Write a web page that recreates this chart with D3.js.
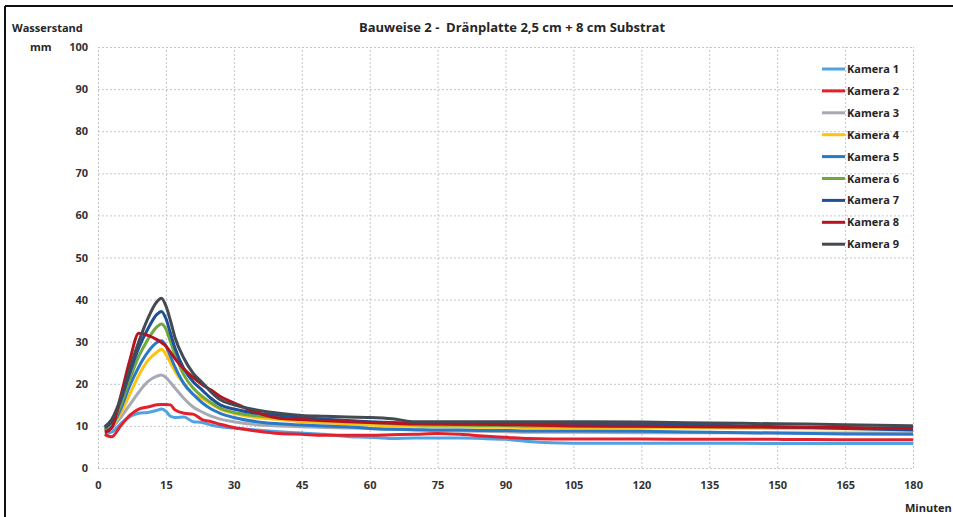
<!DOCTYPE html>
<html>
<head>
<meta charset="utf-8">
<script src="https://cdn.jsdelivr.net/npm/d3@7"></script>
<style>
  body { margin: 0; background: #fff; }
  text { font-family: "Liberation Sans Narrow", "Open Sans", sans-serif; font-weight: bold; fill: #262626; }
  .grid line { stroke: #c4c6cf; stroke-dasharray: 2,2; }
  .grid path { display: none; }
  .axis path, .axis line { display: none; }
  .line { fill: none; stroke-width: 3; stroke-linejoin: round; }
</style>
</head>
<body>
<script>
var minutes = [1.5, 3, 5, 7, 9, 11, 13, 14, 15, 16, 17, 19, 21, 23, 25, 27, 30, 35, 40, 45, 50, 55, 60, 65, 70, 75, 80, 85, 90, 95, 100, 105, 120, 135, 150, 165, 180];

var kamera1 = [8.2, 8.5, 10.5, 12.2, 13.0, 13.2, 13.7, 14.0, 13.5, 12.3, 12.0, 12.1, 11.0, 10.8, 10.2, 9.8, 9.5, 9.0, 8.6, 8.3, 8.0, 7.5, 7.3, 7.0, 7.1, 7.1, 7.1, 7.0, 6.8, 6.3, 6.0, 5.9, 5.9, 5.9, 5.8, 5.8, 5.8];
var kamera2 = [8.0, 7.4, 10.0, 12.5, 14.0, 14.5, 15.0, 15.1, 15.1, 15.0, 13.8, 13.0, 12.8, 11.5, 11.0, 10.4, 9.6, 8.8, 8.2, 8.0, 7.8, 7.8, 7.8, 7.9, 8.0, 8.2, 8.0, 7.6, 7.3, 7.0, 6.9, 6.9, 6.9, 6.8, 6.8, 6.7, 6.7];
var kamera3 = [8.8, 9.5, 12.0, 15.0, 18.0, 20.5, 21.8, 22.1, 21.5, 20.3, 19.0, 16.5, 14.5, 13.3, 12.3, 11.6, 11.0, 10.3, 10.0, 9.8, 9.6, 9.5, 9.4, 9.2, 9.0, 8.9, 8.8, 8.7, 8.6, 8.5, 8.5, 8.5, 8.4, 8.4, 8.3, 8.3, 8.3];
var kamera4 = [8.8, 9.8, 13.0, 17.5, 22.0, 25.5, 27.5, 28.2, 27.0, 25.0, 23.0, 20.0, 17.5, 16.5, 15.2, 14.0, 13.0, 12.0, 11.5, 11.0, 10.7, 10.5, 10.2, 10.0, 9.9, 9.8, 9.8, 9.7, 9.7, 9.6, 9.6, 9.6, 9.5, 9.5, 9.4, 9.3, 9.2];
var kamera5 = [9.0, 10.0, 14.0, 19.5, 24.0, 27.5, 29.8, 30.2, 29.0, 26.5, 24.0, 20.0, 17.5, 15.5, 14.0, 13.0, 12.0, 11.0, 10.5, 10.2, 10.0, 9.8, 9.4, 9.2, 9.1, 9.0, 9.0, 8.9, 8.9, 8.8, 8.8, 8.8, 8.7, 8.5, 8.3, 8.1, 8.0];
var kamera6 = [9.2, 10.5, 15.0, 21.0, 26.5, 30.5, 33.5, 34.2, 33.0, 30.0, 27.0, 22.0, 19.0, 17.0, 15.5, 14.2, 13.2, 12.4, 12.0, 11.7, 11.4, 11.2, 10.8, 10.5, 10.3, 10.2, 10.2, 10.1, 10.1, 10.0, 10.0, 10.0, 9.9, 9.8, 9.7, 9.5, 9.3];
var kamera7 = [9.5, 11.0, 16.0, 22.5, 28.5, 33.0, 36.5, 37.2, 35.5, 32.0, 28.5, 23.5, 20.5, 18.5, 16.5, 15.0, 14.0, 13.0, 12.5, 12.0, 11.6, 11.3, 11.0, 10.8, 10.6, 10.5, 10.5, 10.5, 10.5, 10.5, 10.5, 10.5, 10.4, 10.2, 9.8, 9.4, 9.0];
var kamera8 = [8.5, 9.5, 17.0, 25.5, 32.0, 31.5, 30.5, 29.8, 29.0, 27.5, 26.0, 23.5, 21.5, 19.8, 18.5, 17.0, 15.5, 13.2, 11.8, 11.5, 11.2, 11.0, 10.8, 10.6, 10.5, 10.5, 10.4, 10.4, 10.3, 10.2, 10.1, 10.0, 9.9, 9.8, 9.7, 9.6, 9.4];
var kamera9 = [9.8, 11.5, 16.5, 23.5, 30.0, 35.5, 39.5, 40.3, 38.5, 35.0, 31.0, 26.0, 22.5, 20.3, 18.0, 16.2, 15.0, 13.8, 13.0, 12.5, 12.3, 12.1, 12.0, 11.7, 11.0, 11.0, 11.0, 11.0, 11.0, 11.0, 11.0, 11.0, 10.9, 10.7, 10.5, 10.3, 10.0];

var seriesNames = ["Kamera 1", "Kamera 2", "Kamera 3", "Kamera 4", "Kamera 5", "Kamera 6", "Kamera 7", "Kamera 8", "Kamera 9"];
var seriesValues = [kamera1, kamera2, kamera3, kamera4, kamera5, kamera6, kamera7, kamera8, kamera9];
var colors = ["#4fa3e3", "#e3202c", "#a7a9b4", "#ffc20e", "#2a78c8", "#6fa83f", "#1f4f96", "#b5131f", "#434a52"];

var xTicks = [0, 15, 30, 45, 60, 75, 90, 105, 120, 135, 150, 165, 180];
var yTicks = [0, 10, 20, 30, 40, 50, 60, 70, 80, 90, 100];

var margin = { top: 47, right: 40, bottom: 49, left: 98 },
  width = 953 - margin.left - margin.right,
  height = 517 - margin.top - margin.bottom;

var x = d3.scaleLinear().domain([0, 180]).range([0, width]);
var y = d3.scaleLinear().domain([0, 100]).range([height, 0]);

var root = d3.select("body").append("svg").attr("width", 953).attr("height", 517);

// frame of the scanned figure
root.append("line").attr("x1", 5).attr("y1", 6).attr("x2", 953).attr("y2", 6)
  .attr("stroke", "#111").attr("stroke-width", 2);
root.append("line").attr("x1", 5).attr("y1", 6).attr("x2", 5).attr("y2", 517)
  .attr("stroke", "#111").attr("stroke-width", 2);

root.append("text").attr("x", 512).attr("y", 32).attr("text-anchor", "middle")
  .style("font-size", "13px").style("white-space", "pre")
  .text("Bauweise 2 -  Dränplatte 2,5 cm + 8 cm Substrat");
root.append("text").attr("x", 12).attr("y", 32).style("font-size", "11px").text("Wasserstand");
root.append("text").attr("x", 30).attr("y", 51).style("font-size", "11px").text("mm");
root.append("text").attr("x", 905).attr("y", 512).style("font-size", "11px").text("Minuten");

var svg = root.append("g").attr("transform", "translate(" + margin.left + "," + margin.top + ")");

svg.append("g").attr("class", "grid")
  .call(d3.axisLeft(y).tickValues(yTicks).tickSize(-width).tickFormat(""));
svg.append("g").attr("class", "grid")
  .attr("transform", "translate(0," + height + ")")
  .call(d3.axisBottom(x).tickValues(xTicks).tickSize(-height).tickFormat(""));

svg.append("g").attr("class", "axis")
  .attr("transform", "translate(0," + height + ")")
  .call(d3.axisBottom(x).tickValues(xTicks).tickSize(0).tickPadding(13))
  .selectAll("text").style("font-size", "11px").style("fill", "#333");

svg.append("g").attr("class", "axis")
  .call(d3.axisLeft(y).tickValues(yTicks).tickSize(0).tickPadding(10))
  .selectAll("text").style("font-size", "11px").style("fill", "#333");

var line = d3.line()
  .x(function (d) { return x(d.m); })
  .y(function (d) { return y(d.v); })
  .curve(d3.curveMonotoneX);

seriesValues.forEach(function (vals, i) {
  var data = minutes.map(function (m, j) { return { m: m, v: vals[j] }; });
  svg.append("path").datum(data).attr("class", "line")
    .attr("stroke", colors[i]).attr("d", line);
});

var legend = root.append("g").attr("transform", "translate(822,69)");
seriesNames.forEach(function (name, i) {
  var row = legend.append("g").attr("transform", "translate(0," + i * 21.9 + ")");
  row.append("line").attr("x1", 0).attr("x2", 23).attr("y1", 0).attr("y2", 0)
    .attr("stroke", colors[i]).attr("stroke-width", 3);
  row.append("text").attr("x", 25).attr("y", 4).style("font-size", "11px").text(name);
});
</script>
</body>
</html>
